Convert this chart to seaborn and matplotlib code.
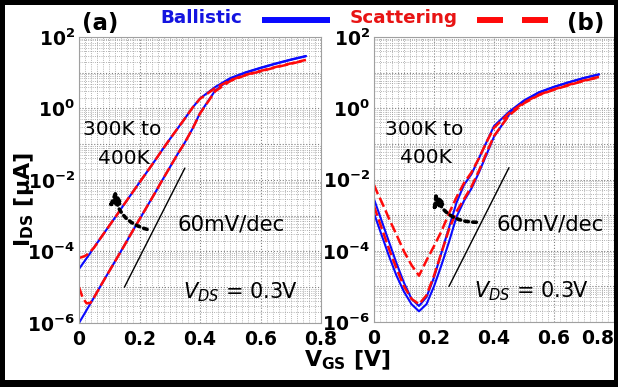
import numpy as np
import pandas as pd
import matplotlib
matplotlib.use("Agg")
import matplotlib.pyplot as plt
import matplotlib.ticker as mt
from matplotlib.lines import Line2D
from matplotlib.patches import Rectangle
import seaborn as sns

# ---------------- data (log10 of I_DS in uA) ----------------
V = [0, 0.0125, 0.025, 0.0375, 0.05, 0.075, 0.1, 0.125, 0.15, 0.175, 0.2, 0.225,
     0.25, 0.275, 0.3, 0.325, 0.35, 0.375, 0.4, 0.45, 0.5, 0.55, 0.6, 0.65, 0.7, 0.75]

a_bal_400 = [-4.49, -4.34, -4.19, -4.04, -3.88, -3.58, -3.28, -2.98, -2.67, -2.37, -2.07, -1.77,
             -1.47, -1.16, -0.86, -0.57, -0.28, 0.02, 0.28, 0.60, 0.85, 1.01, 1.14, 1.26, 1.37, 1.47]
a_sca_400 = [-4.18, -4.15, -4.10, -4.00, -3.89, -3.58, -3.28, -2.98, -2.67, -2.37, -2.07, -1.77,
             -1.47, -1.16, -0.86, -0.57, -0.28, 0.02, 0.27, 0.57, 0.79, 0.94, 1.05, 1.16, 1.26, 1.36]
a_bal_300 = [-6.00, -5.82, -5.64, -5.46, -5.28, -4.91, -4.55, -4.19, -3.83, -3.46, -3.10, -2.74,
             -2.38, -2.01, -1.65, -1.29, -0.95, -0.57, -0.13, 0.50, 0.83, 1.00, 1.13, 1.25, 1.36, 1.46]
a_sca_300 = [-5.00, -5.30, -5.45, -5.44, -5.28, -4.91, -4.55, -4.19, -3.83, -3.46, -3.10, -2.74,
             -2.38, -2.01, -1.65, -1.29, -0.95, -0.57, -0.14, 0.48, 0.77, 0.93, 1.04, 1.15, 1.25, 1.35]

b_bal_400 = [-2.55, -2.85, -3.15, -3.45, -3.75, -4.35, -4.90, -5.35, -5.55, -5.30, -4.75, -4.05,
             -3.35, -2.65, -2.15, -1.85, -1.40, -0.95, -0.50, -0.10, 0.22, 0.45, 0.60, 0.73, 0.85, 0.95]
b_sca_400 = [-2.15, -2.40, -2.62, -2.85, -3.10, -3.55, -4.02, -4.40, -4.70, -4.27, -3.87, -3.45,
             -2.95, -2.50, -2.10, -1.80, -1.40, -0.95, -0.55, -0.14, 0.16, 0.38, 0.53, 0.66, 0.78, 0.88]
b_bal_300 = [-2.95, -3.25, -3.55, -3.85, -4.15, -4.70, -5.15, -5.50, -5.70, -5.50, -5.00, -4.40,
             -3.75, -3.05, -2.60, -2.25, -1.80, -1.30, -0.80, -0.18, 0.20, 0.44, 0.60, 0.73, 0.85, 0.95]
b_sca_300 = [-2.75, -3.05, -3.35, -3.65, -3.95, -4.50, -5.00, -5.35, -5.50, -5.25, -4.70, -4.05,
             -3.40, -2.90, -2.55, -2.20, -1.75, -1.25, -0.78, -0.20, 0.14, 0.37, 0.52, 0.65, 0.77, 0.87]

x_ticks = [0, 0.2, 0.4, 0.6, 0.8]
x_ticklabels = ["0", "0.2", "0.4", "0.6", "0.8"]
y_exps = list(range(-6, 3))

series = {
    "a": {("Ballistic", "400K"): a_bal_400, ("Scattering", "400K"): a_sca_400,
          ("Ballistic", "300K"): a_bal_300, ("Scattering", "300K"): a_sca_300},
    "b": {("Ballistic", "400K"): b_bal_400, ("Scattering", "400K"): b_sca_400,
          ("Ballistic", "300K"): b_bal_300, ("Scattering", "300K"): b_sca_300},
}
rows = []
for panel, d in series.items():
    for (model, T), logs in d.items():
        for v, l in zip(V, logs):
            rows.append(dict(panel=panel, model=model, T=T, V=v, I=10.0 ** l))
df = pd.DataFrame(rows)

# ---------------- style ----------------
sns.set_theme(style="white")
plt.rcParams["font.family"] = ["DejaVu Sans"]
plt.rcParams["mathtext.fontset"] = "dejavusans"
plt.rcParams["text.color"] = "black"
plt.rcParams["xtick.color"] = "black"
plt.rcParams["ytick.color"] = "black"
plt.rcParams["axes.labelcolor"] = "black"

BLUE = "#0a0aff"
RED = "#ff0a0a"

W, H = 618, 387
fig = plt.figure(figsize=(W / 100, H / 100), dpi=100)
fig.patch.set_facecolor("white")


def px_axes(l, t, r, b):
    return [l / W, 1 - b / H, (r - l) / W, (b - t) / H]


axA = fig.add_axes(px_axes(79, 37, 321, 323))
axB = fig.add_axes(px_axes(374, 37, 614, 322))

for ax, panel in [(axA, "a"), (axB, "b")]:
    sub = df[df.panel == panel]
    sns.lineplot(data=sub[sub.model == "Ballistic"], x="V", y="I", units="T",
                 estimator=None, color=BLUE, lw=1.5, ax=ax, legend=False, sort=False)
    sns.lineplot(data=sub[sub.model == "Scattering"], x="V", y="I", units="T",
                 estimator=None, color=RED, lw=1.8, linestyle=(0, (4, 1.6)),
                 ax=ax, legend=False, sort=False)
    ax.set_yscale("log")
    ax.set_xlim(0, 0.8)
    ax.set_ylim(1e-6, 1e2)
    ax.set_xticks(x_ticks)
    ax.set_xticklabels(x_ticklabels)
    ax.set_yticks([10.0 ** k for k in y_exps])
    ax.set_yticklabels([r"$\mathbf{10^{%d}}$" % k if k % 2 == 0 else "" for k in y_exps])
    ax.xaxis.set_minor_locator(mt.MultipleLocator(0.02))
    ax.yaxis.set_minor_locator(mt.LogLocator(base=10, subs=np.arange(2, 10), numticks=100))
    ax.yaxis.set_minor_formatter(mt.NullFormatter())
    ax.tick_params(which="both", length=0, colors="black")
    ax.tick_params(axis="x", pad=5, labelsize=13.5)
    ax.tick_params(axis="y", pad=3, labelsize=13.5)
    for lab in ax.get_xticklabels():
        lab.set_fontweight("bold")
        lab.set_color("black")
    ax.grid(which="major", color="#808080", ls=":", lw=0.8)
    ax.grid(which="minor", color="#9a9a9a", ls=":", lw=0.6)
    ax.set_axisbelow(True)
    for s in ax.spines.values():
        s.set_color("#a0a0a0")
        s.set_linewidth(0.8)
    ax.set_xlabel("")
    ax.set_ylabel("")

# last x label of panel b sits inside the frame
axB.get_xticklabels()[-1].set_horizontalalignment("right")

# 60 mV/dec reference lines
axA.plot([0.15, 0.35], [1e-5, 10 ** (-5 + 0.2 / 0.06)], color="black", lw=1.0)
axB.plot([0.25, 0.45], [1e-5, 10 ** (-5 + 0.2 / 0.06)], color="black", lw=1.0)

# dotted temperature arrows
for ax, start, end in [(axA, (0.225, 10 ** -3.38), (0.119, 10 ** -2.28)),
                       (axB, (0.341, 10 ** -3.20), (0.202, 10 ** -2.36))]:
    ax.annotate("", xy=end, xytext=start,
                arrowprops=dict(arrowstyle="-|>", lw=2.6, ls=(0, (1, 1.2)), color="black",
                                connectionstyle="arc3,rad=-0.35", mutation_scale=18,
                                shrinkA=0, shrinkB=0))

# texts inside panels
for ax, xs in [(axA, (0.013, 0.063, 0.324, 0.344)), (axB, (0.036, 0.086, 0.408, 0.335))]:
    ax.text(xs[0], 10 ** -0.75, "300K to", fontsize=14.5, ha="left", va="baseline", color="black")
    ax.text(xs[1], 10 ** -1.55, "400K", fontsize=14.5, ha="left", va="baseline", color="black")
    ax.text(xs[2], 10 ** -3.42, "60mV/dec", fontsize=15.3, ha="left", va="baseline", color="black")
    ax.text(xs[3], 10 ** -5.3, r"$V_{DS}$ = 0.3V", fontsize=15, ha="left", va="baseline",
            color="black")

# axis labels
fig.text(24 / W, 1 - 199 / H, r"$\mathbf{I_{DS}}$ [μA]", rotation=90, fontsize=16,
         fontweight="bold", ha="center", va="center", color="black")
fig.text(304 / W, 1 - 366 / H, r"$\mathbf{V_{GS}}$ [V]", fontsize=15.8,
         fontweight="bold", ha="left", va="baseline", color="black")

# panel letters and legend on top
fig.text(82 / W, 1 - 30 / H, "(a)", fontsize=16.5, fontweight="bold", ha="left", va="baseline",
         color="black")
fig.text(567 / W, 1 - 30 / H, "(b)", fontsize=16.5, fontweight="bold", ha="left", va="baseline",
         color="black")
fig.text(160 / W, 1 - 23 / H, "Ballistic", fontsize=13.2, fontweight="bold", color="#1414e0",
         ha="left", va="baseline")
fig.text(350 / W, 1 - 23 / H, "Scattering", fontsize=13.2, fontweight="bold", color="#e81414",
         ha="left", va="baseline")
fig.add_artist(Line2D([262 / W, 330 / W], [1 - 20 / H] * 2, transform=fig.transFigure,
                      color=BLUE, lw=4.3, solid_capstyle="butt"))
fig.add_artist(Line2D([477 / W, 548 / W], [1 - 20 / H] * 2, transform=fig.transFigure,
                      color=RED, lw=4.3, linestyle=(0, (26 * 0.72 / 4.3, 19 * 0.72 / 4.3)),
                      dash_capstyle="butt"))

# outer black frame
for (x0, y0, x1, y1) in [(0, 0, 5, H), (614, 0, W, H), (0, 0, W, 5), (0, 380, W, H)]:
    fig.add_artist(Rectangle((x0 / W, 1 - y1 / H), (x1 - x0) / W, (y1 - y0) / H,
                             transform=fig.transFigure, color="black", lw=0))

fig.savefig("out.png", dpi=100)
